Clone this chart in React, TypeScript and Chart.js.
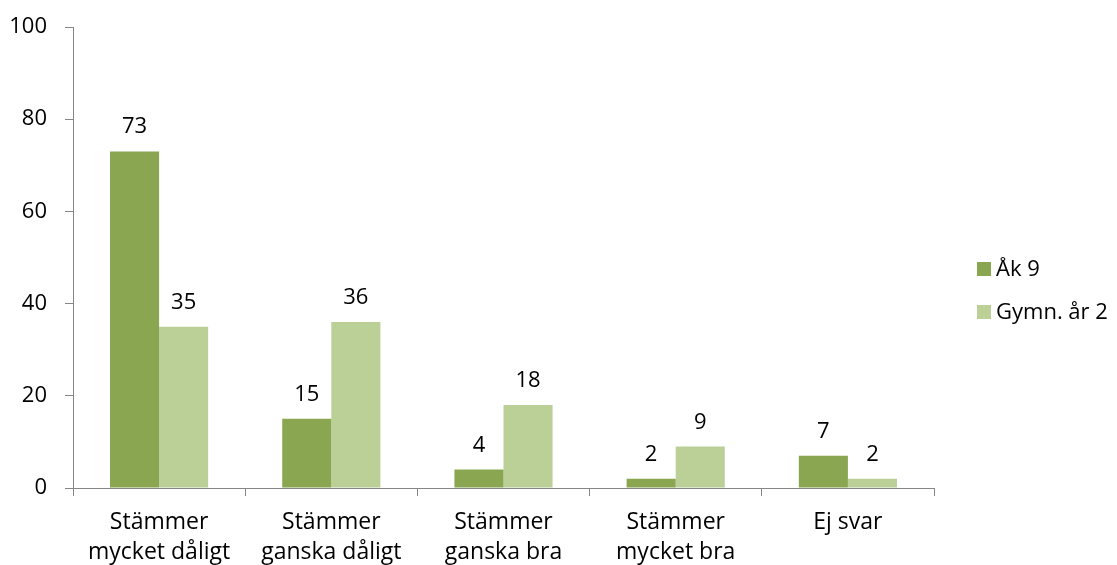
import React, { useEffect, useRef } from "react";
import { Chart, registerables } from "chart.js";

Chart.register(...registerables);

const categories: string[][] = [
  ["Stämmer", "mycket dåligt"],
  ["Stämmer", "ganska dåligt"],
  ["Stämmer", "ganska bra"],
  ["Stämmer", "mycket bra"],
  ["Ej svar"],
];
const seriesNames = ["Åk 9", "Gymn. år 2"];
const ak9 = [73, 15, 4, 2, 7];
const gymn2 = [35, 36, 18, 9, 2];
const yTicks = { min: 0, max: 100, step: 20 };

const COLORS = ["#8AA650", "#BBD097"];
const AXIS = "#868686";
const FONT = "'Open Sans'";
const FS = 22;
const FSX = 23;

const W = 1117;
const H = 588;

const labelsPlugin = {
  id: "valueLabels",
  afterDatasetsDraw(chart: any) {
    const ctx = chart.ctx;
    ctx.save();
    ctx.fillStyle = "#000";
    ctx.font = `${FS}px ${FONT}`;
    ctx.textAlign = "center";
    ctx.textBaseline = "alphabetic";
    chart.data.datasets.forEach((ds: any, i: number) => {
      const meta = chart.getDatasetMeta(i);
      meta.data.forEach((el: any, j: number) => {
        ctx.fillText(String(ds.data[j]), el.x, el.y - 18);
      });
    });
    ctx.restore();
  },
};

const legendPlugin = {
  id: "sideLegend",
  afterDraw(chart: any) {
    const ctx = chart.ctx;
    const x0 = chart.chartArea.right + 43;
    const ys = [269, 312];
    ctx.save();
    ctx.font = `${FS}px ${FONT}`;
    ctx.textBaseline = "middle";
    ctx.textAlign = "left";
    chart.data.datasets.forEach((ds: any, i: number) => {
      ctx.fillStyle = ds.backgroundColor;
      ctx.fillRect(x0, ys[i] - 7, 14, 14);
      ctx.fillStyle = "#000";
      ctx.fillText(ds.label, x0 + 19, ys[i] + 1);
    });
    ctx.restore();
  },
};

export default function App() {
  const ref = useRef<HTMLCanvasElement | null>(null);
  useEffect(() => {
    document.body.style.margin = "0";
    const chart = new Chart(ref.current!, {
      type: "bar",
      data: {
        labels: categories,
        datasets: [
          { label: seriesNames[0], data: ak9, backgroundColor: COLORS[0] },
          { label: seriesNames[1], data: gymn2, backgroundColor: COLORS[1] },
        ],
      },
      options: {
        responsive: false,
        animation: false,
        events: [],
        layout: { padding: { top: 27, right: 183, bottom: 0, left: 0 } },
        plugins: { legend: { display: false }, tooltip: { enabled: false } },
        datasets: { bar: { categoryPercentage: 0.57, barPercentage: 1 } },
        scales: {
          x: {
            offset: true,
            grid: {
              display: true,
              offset: true,
              drawOnChartArea: false,
              drawTicks: true,
              tickLength: 8,
              color: AXIS,
            },
            border: { display: true, color: AXIS, width: 1 },
            ticks: {
              color: "#000",
              font: { family: FONT, size: FSX, lineHeight: 1.3 },
              padding: 12,
              maxRotation: 0,
              autoSkip: false,
            },
            afterFit: (s: any) => {
              s.height = H - 488;
              s.paddingLeft = 0;
              s.paddingRight = 0;
            },
          },
          y: {
            min: yTicks.min,
            max: yTicks.max,
            grid: {
              display: true,
              drawOnChartArea: false,
              drawTicks: true,
              tickLength: 8,
              color: AXIS,
            },
            border: { display: true, color: AXIS, width: 1 },
            ticks: {
              stepSize: yTicks.step,
              color: "#000",
              font: { family: FONT, size: FS },
              padding: 18,
            },
            afterFit: (s: any) => {
              s.width = 73;
              s.paddingTop = 0;
              s.paddingBottom = 0;
            },
          },
        },
      },
      plugins: [labelsPlugin, legendPlugin],
    });
    return () => chart.destroy();
  }, []);
  return (
    <div style={{ position: "fixed", left: 0, top: 0, width: W, height: 565, overflow: "hidden", background: "#fff" }}>
      <canvas ref={ref} width={W} height={H} style={{ display: "block" }} />
    </div>
  );
}
